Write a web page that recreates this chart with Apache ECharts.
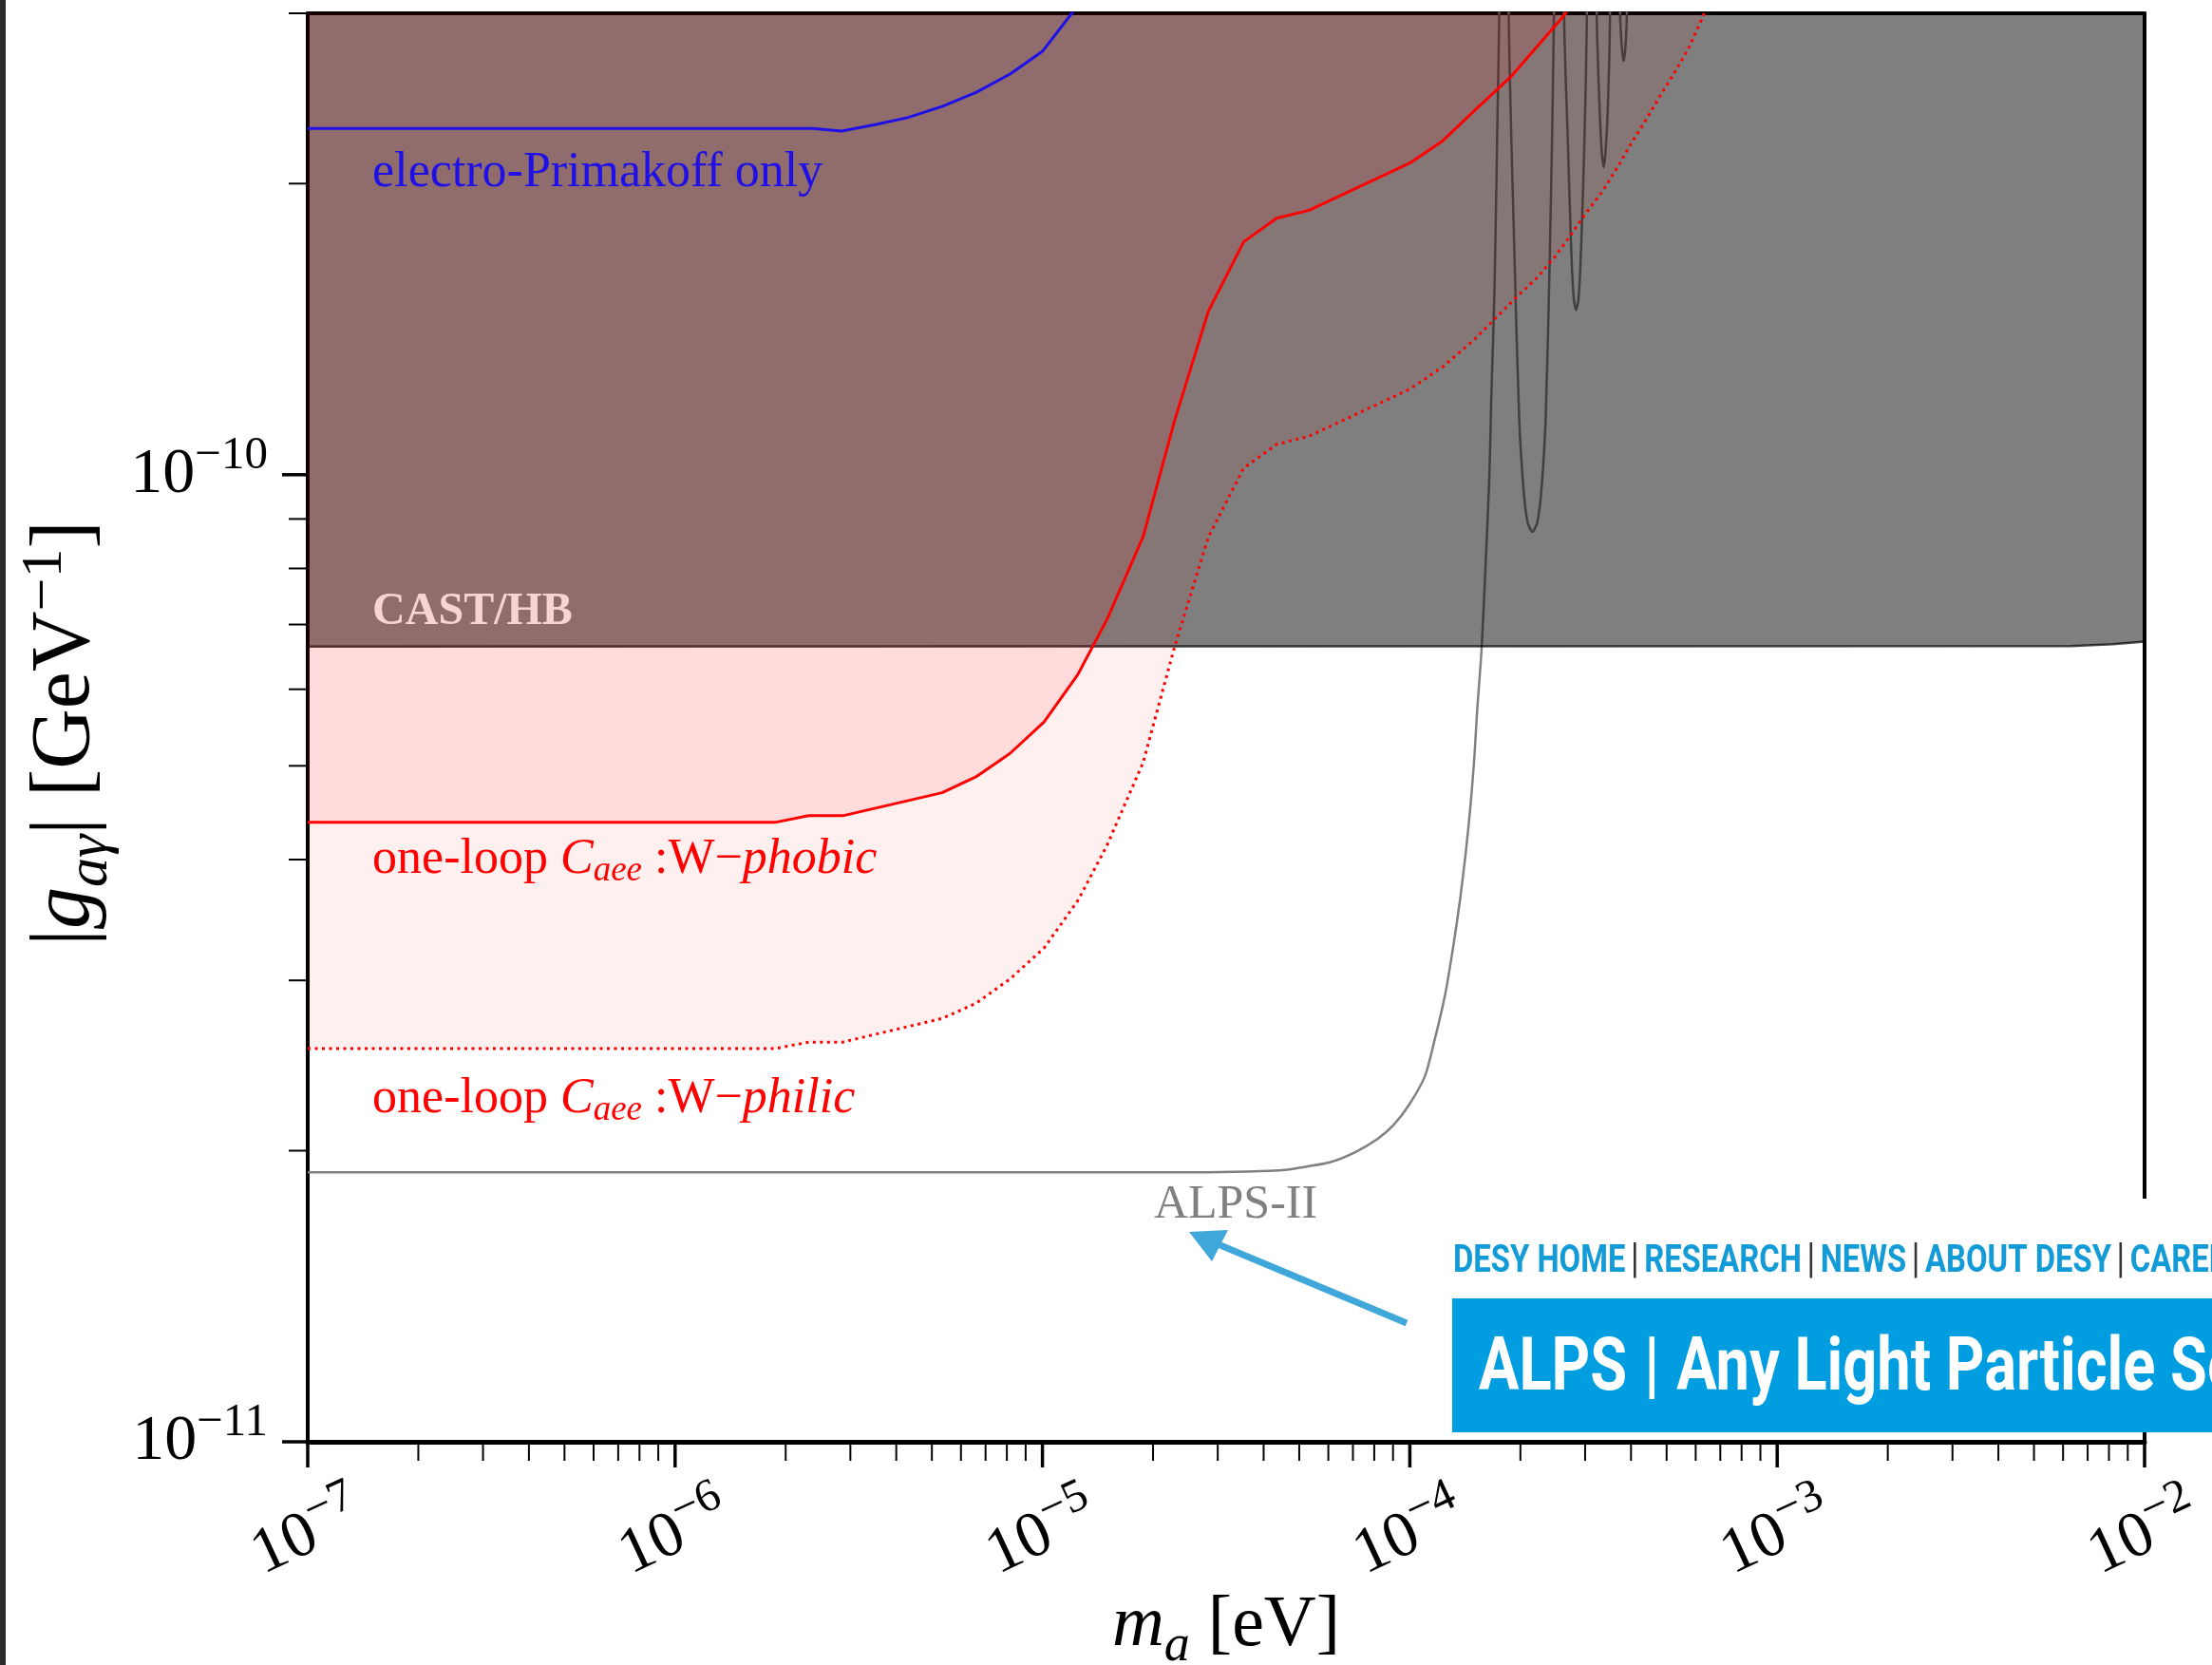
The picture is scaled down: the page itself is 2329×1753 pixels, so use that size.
<!DOCTYPE html>
<html>
<head>
<meta charset="utf-8">
<script src="https://cdn.jsdelivr.net/npm/echarts@6/dist/echarts.min.js"></script>
<style>
  html, body { margin: 0; padding: 0; background: #ffffff; }
  #chart { width: 2329px; height: 1753px; }
</style>
</head>
<body>
<div id="chart"></div>
<script>
// ---- axis ranges -------------------------------------------------------
const xRange = [1e-7, 1e-2];          // m_a [eV]
const yRange = [1e-11, 3e-10];        // |g_a gamma| [GeV^-1]

// ---- ticks and tick labels ---------------------------------------------
const xMajorTicks = [1e-7, 1e-6, 1e-5, 1e-4, 1e-3, 1e-2];
const xTickExponents = ['\u22127', '\u22126', '\u22125', '\u22124', '\u22123', '\u22122'];
const xMinorTicks = [
  2e-7, 3e-7, 4e-7, 5e-7, 6e-7, 7e-7, 8e-7, 9e-7,
  2e-6, 3e-6, 4e-6, 5e-6, 6e-6, 7e-6, 8e-6, 9e-6,
  2e-5, 3e-5, 4e-5, 5e-5, 6e-5, 7e-5, 8e-5, 9e-5,
  2e-4, 3e-4, 4e-4, 5e-4, 6e-4, 7e-4, 8e-4, 9e-4,
  2e-3, 3e-3, 4e-3, 5e-3, 6e-3, 7e-3, 8e-3, 9e-3
];
const yMajorTicks = [1e-11, 1e-10];
const yTickExponents = ['\u221211', '\u221210'];
const yMinorTicks = [2e-11, 3e-11, 4e-11, 5e-11, 6e-11, 7e-11, 8e-11, 9e-11, 2e-10, 3e-10];

// ---- limits / sensitivities: [m_a, g_a gamma] ---------------------------
const castHB = [
  [1e-7, 6.64e-11], [6.3e-3, 6.65e-11], [8.2e-3, 6.68e-11], [1e-2, 6.72e-11]
];

// ALPS-II sensitivity; the curve leaves the frame between its minima
const alpsII = [
  [1e-7, 1.90e-11], [2.67e-5, 1.90e-11], [3.6e-5, 1.903e-11], [4.49e-5, 1.909e-11],
  [5.2e-5, 1.925e-11], [6.05e-5, 1.945e-11], [7.10e-5, 1.993e-11], [8.16e-5, 2.056e-11],
  [9.02e-5, 2.125e-11], [9.96e-5, 2.232e-11], [1.099e-4, 2.388e-11], [1.165e-4, 2.593e-11],
  [1.248e-4, 2.902e-11], [1.312e-4, 3.248e-11], [1.37e-4, 3.635e-11], [1.42e-4, 4.068e-11],
  [1.463e-4, 4.551e-11], [1.498e-4, 5.094e-11], [1.525e-4, 5.702e-11], [1.568e-4, 6.6e-11],
  [1.606e-4, 7.99e-11], [1.647e-4, 1e-10], [1.666e-4, 1.197e-10], [1.70e-4, 1.553e-10],
  [1.734e-4, 2.393e-10], [1.751e-4, 2.985e-10],
  [1.805e-4, 2e-9],
  [1.859e-4, 2.985e-10], [1.926e-4, 1.693e-10], [1.984e-4, 1.147e-10], [2.04e-4, 9.645e-11],
  [2.093e-4, 8.92e-11], [2.157e-4, 8.73e-11], [2.222e-4, 8.92e-11], [2.281e-4, 9.645e-11],
  [2.344e-4, 1.147e-10], [2.405e-4, 1.693e-10], [2.468e-4, 2.985e-10],
  [2.548e-4, 2e-9],
  [2.63e-4, 2.985e-10], [2.694e-4, 2.196e-10], [2.748e-4, 1.722e-10], [2.792e-4, 1.526e-10],
  [2.836e-4, 1.48e-10], [2.881e-4, 1.526e-10], [2.927e-4, 1.722e-10], [2.986e-4, 2.196e-10],
  [3.034e-4, 2.985e-10],
  [3.12e-4, 2e-9],
  [3.227e-4, 2.985e-10], [3.285e-4, 2.393e-10], [3.33e-4, 2.158e-10], [3.37e-4, 2.08e-10],
  [3.41e-4, 2.158e-10], [3.459e-4, 2.393e-10], [3.506e-4, 2.985e-10],
  [3.62e-4, 2e-9],
  [3.738e-4, 2.985e-10], [3.782e-4, 2.749e-10], [3.819e-4, 2.679e-10], [3.857e-4, 2.749e-10],
  [3.896e-4, 2.985e-10],
  [4.0e-4, 2e-9]
];

const wPhilic = [
  [1e-7, 2.55e-11], [1.87e-6, 2.55e-11], [2.31e-6, 2.59e-11], [2.86e-6, 2.59e-11],
  [5.33e-6, 2.74e-11], [6.59e-6, 2.84e-11], [8.16e-6, 3.01e-11], [1.01e-5, 3.24e-11],
  [1.25e-5, 3.63e-11], [1.50e-5, 4.14e-11], [1.88e-5, 5.04e-11], [2.29e-5, 6.64e-11],
  [2.83e-5, 8.62e-11], [3.53e-5, 1.016e-10], [4.34e-5, 1.075e-10], [5.32e-5, 1.096e-10],
  [1.0e-4, 1.226e-10], [1.23e-4, 1.293e-10], [1.50e-4, 1.38e-10], [1.70e-4, 1.448e-10],
  [1.95e-4, 1.526e-10], [2.20e-4, 1.593e-10], [2.48e-4, 1.679e-10], [2.74e-4, 1.768e-10],
  [2.96e-4, 1.846e-10], [3.34e-4, 1.962e-10], [3.69e-4, 2.084e-10], [3.99e-4, 2.195e-10],
  [4.41e-4, 2.333e-10], [4.78e-4, 2.457e-10], [5.27e-4, 2.61e-10], [5.71e-4, 2.749e-10],
  [6.24e-4, 2.96e-10], [6.45e-4, 3.06e-10]
];

const wPhobic = [
  [1e-7, 4.37e-11], [1.87e-6, 4.37e-11], [2.31e-6, 4.44e-11], [2.86e-6, 4.44e-11],
  [5.33e-6, 4.69e-11], [6.59e-6, 4.87e-11], [8.16e-6, 5.15e-11], [1.01e-5, 5.55e-11],
  [1.25e-5, 6.22e-11], [1.50e-5, 7.09e-11], [1.88e-5, 8.63e-11], [2.29e-5, 1.138e-10],
  [2.83e-5, 1.476e-10], [3.53e-5, 1.741e-10], [4.34e-5, 1.842e-10], [5.32e-5, 1.877e-10],
  [1.0e-4, 2.10e-10], [1.23e-4, 2.215e-10], [1.50e-4, 2.38e-10], [1.88e-4, 2.577e-10],
  [2.63e-4, 2.985e-10], [2.75e-4, 3.06e-10]
];

const electroPrimakoff = [
  [1e-7, 2.28e-10], [2.37e-6, 2.28e-10], [2.84e-6, 2.266e-10], [3.50e-6, 2.301e-10],
  [4.29e-6, 2.34e-10], [5.35e-6, 2.404e-10], [6.61e-6, 2.486e-10], [8.18e-6, 2.597e-10],
  [1.0e-5, 2.74e-10], [1.21e-5, 3.01e-10], [1.26e-5, 3.08e-10]
];

// text anchors (left-middle of each annotation) in data coordinates
const annotationAnchors = {
  primakoff: [1.5e-7, 2.05e-10],
  cast: [1.5e-7, 7.2e-11],
  phobic: [1.5e-7, 4.0e-11],
  philic: [1.5e-7, 2.26e-11],
  alps: [2.01e-5, 1.755e-11]
};

// ---- styling -----------------------------------------------------------
const SERIF = '"Liberation Serif", "DejaVu Serif", serif';
const RED = '#ff0000';
const BLUE = '#2010e8';

function isPower(v, list) {
  return list.findIndex(t => Math.abs(Math.log10(t) - Math.log10(v)) < 1e-6);
}

const tickRich = {
  b: { fontFamily: SERIF, fontSize: 68, lineHeight: 86, color: '#000' },
  s: { fontFamily: SERIF, fontSize: 49, height: 46, verticalAlign: 'top', color: '#000' }
};

const labelRich = (color) => ({
  n: { fontFamily: SERIF, fontSize: 52, lineHeight: 62, color: color },
  it: { fontFamily: SERIF, fontSize: 52, lineHeight: 62, fontStyle: 'italic', color: color },
  sub: { fontFamily: SERIF, fontSize: 37, height: 38, verticalAlign: 'bottom', fontStyle: 'italic', color: color }
});

function tickRenderer(horizontal) {
  return function (params, api) {
    const p = api.coord([api.value(0), api.value(1)]);
    const major = api.value(2) === 1;
    const len = major ? 27 : 20;
    const shape = horizontal
      ? { x1: p[0], y1: p[1], x2: p[0], y2: p[1] + len }
      : { x1: p[0], y1: p[1], x2: p[0] - len, y2: p[1] };
    return { type: 'line', shape: shape, style: { stroke: '#000', lineWidth: major ? 3.5 : 2 } };
  };
}

const xTickData = xMajorTicks.map(v => [v, yRange[0], 1]).concat(xMinorTicks.map(v => [v, yRange[0], 0]));
const yTickData = yMajorTicks.map(v => [xRange[0], v, 1]).concat(yMinorTicks.map(v => [xRange[0], v, 0]));

const chart = echarts.init(document.getElementById('chart'), null, { renderer: 'canvas', width: 2329, height: 1753 });

const option = {
  animation: false,
  backgroundColor: '#ffffff',
  grid: { left: 324, right: 71, top: 14, bottom: 235, containLabel: false, outerBoundsMode: 'none' },
  xAxis: [
    {
      type: 'log', logBase: 10, min: xRange[0], max: xRange[1], position: 'bottom',
      axisLine: { show: true, lineStyle: { color: '#000', width: 5 } },
      axisTick: { show: false }, splitLine: { show: false }, minorTick: { show: false },
      axisLabel: {
        rotate: 25, align: 'center', verticalAlign: 'middle', margin: 98,
        fontFamily: SERIF, color: '#000',
        formatter: v => { const i = isPower(v, xMajorTicks); return i < 0 ? '' : '{b|10}{s|' + xTickExponents[i] + '}'; },
        rich: tickRich
      },
      name: '{it|m}{sub|a}{n| [eV]}', nameLocation: 'middle', nameGap: 144, nameMoveOverlap: false,
      nameTextStyle: {
        fontFamily: SERIF, fontSize: 76, color: '#000',
        rich: {
          n: { fontFamily: SERIF, fontSize: 76, lineHeight: 100, color: '#000' },
          it: { fontFamily: SERIF, fontSize: 76, lineHeight: 100, fontStyle: 'italic', color: '#000' },
          sub: { fontFamily: SERIF, fontSize: 54, height: 56, verticalAlign: 'bottom', fontStyle: 'italic', color: '#000' }
        }
      }
    },
    {
      type: 'log', logBase: 10, min: xRange[0], max: xRange[1], position: 'top',
      axisLine: { show: true, lineStyle: { color: '#000', width: 4 } },
      axisTick: { show: false }, axisLabel: { show: false }, splitLine: { show: false }
    }
  ],
  yAxis: [
    {
      type: 'log', logBase: 10, min: yRange[0], max: yRange[1], position: 'left',
      axisLine: { show: true, lineStyle: { color: '#000', width: 4 } },
      axisTick: { show: false }, splitLine: { show: false }, minorTick: { show: false },
      axisLabel: {
        margin: 42, fontFamily: SERIF, color: '#000',
        formatter: v => { const i = isPower(v, yMajorTicks); return i < 0 ? '' : '{b|10}{s|' + yTickExponents[i] + '}'; },
        rich: tickRich
      },
      name: '{n||}{it|g}{sub|a\u03b3}{n|| [GeV}{sup|\u22121}{n|]}',
      nameLocation: 'middle', nameRotate: 90, nameGap: 197, nameMoveOverlap: false,
      nameTextStyle: {
        fontFamily: SERIF, fontSize: 88, color: '#000', padding: [0, 12, 0, 0],
        rich: {
          n: { fontFamily: SERIF, fontSize: 88, lineHeight: 114, color: '#000' },
          it: { fontFamily: SERIF, fontSize: 88, lineHeight: 114, fontStyle: 'italic', color: '#000' },
          sub: { fontFamily: SERIF, fontSize: 62, height: 62, verticalAlign: 'bottom', fontStyle: 'italic', color: '#000' },
          sup: { fontFamily: SERIF, fontSize: 62, height: 70, verticalAlign: 'top', color: '#000' }
        }
      }
    },
    {
      type: 'log', logBase: 10, min: yRange[0], max: yRange[1], position: 'right',
      axisLine: { show: true, lineStyle: { color: '#000', width: 4 } },
      axisTick: { show: false }, axisLabel: { show: false }, splitLine: { show: false }
    }
  ],
  series: [
    {
      name: 'ALPS-II', type: 'line', z: 2, data: alpsII,
      showSymbol: false, symbol: 'none', smooth: 0.25, clip: true, silent: true,
      lineStyle: { color: '#808080', width: 2.5 }
    },
    {
      name: 'CAST/HB', type: 'line', z: 3, data: castHB, showSymbol: false, symbol: 'none', clip: true, silent: true,
      lineStyle: { color: 'rgba(0,0,0,0.7)', width: 2.5 },
      areaStyle: { color: 'rgba(0,0,0,0.5)', opacity: 1, origin: 'end' }
    },
    {
      name: 'W-philic', type: 'line', z: 4, data: wPhilic, showSymbol: false, symbol: 'none', clip: true, silent: true,
      lineStyle: { color: RED, width: 3, type: [3, 4.5] },
      areaStyle: { color: 'rgba(255,0,0,0.06)', opacity: 1, origin: 'end' }
    },
    {
      name: 'W-phobic', type: 'line', z: 5, data: wPhobic, showSymbol: false, symbol: 'none', clip: true, silent: true,
      lineStyle: { color: RED, width: 3 },
      areaStyle: { color: 'rgba(255,0,0,0.085)', opacity: 1, origin: 'end' }
    },
    {
      name: 'electro-Primakoff', type: 'line', z: 6, data: electroPrimakoff, showSymbol: false, symbol: 'none',
      clip: true, silent: true,
      lineStyle: { color: BLUE, width: 3 }
    },
    {
      name: 'x ticks', type: 'custom', z: 7, coordinateSystem: 'cartesian2d', data: xTickData,
      encode: { x: 0, y: 1 }, clip: false, silent: true, renderItem: tickRenderer(true)
    },
    {
      name: 'y ticks', type: 'custom', z: 7, coordinateSystem: 'cartesian2d', data: yTickData,
      encode: { x: 0, y: 1 }, clip: false, silent: true, renderItem: tickRenderer(false)
    },
    {
      name: 'annotations', type: 'scatter', z: 20, zlevel: 0, symbolSize: 0, silent: true, clip: false,
      itemStyle: { opacity: 1 },
      data: [
        { value: annotationAnchors.primakoff,
          label: { show: true, position: 'right', distance: 0, formatter: 'electro-Primakoff only', opacity: 1,
                   fontFamily: SERIF, fontSize: 52, color: BLUE } },
        { value: annotationAnchors.cast,
          label: { show: true, position: 'right', distance: 0, formatter: 'CAST/HB', opacity: 1,
                   fontFamily: SERIF, fontSize: 48, fontWeight: 'bold', color: '#f7d4d4' } },
        { value: annotationAnchors.phobic,
          label: { show: true, position: 'right', distance: 0, opacity: 1,
                   formatter: '{n|one-loop }{it|C}{sub|aee}{n| :W\u2212}{it|phobic}',
                   rich: labelRich(RED) } },
        { value: annotationAnchors.philic,
          label: { show: true, position: 'right', distance: 0, opacity: 1,
                   formatter: '{n|one-loop }{it|C}{sub|aee}{n| :W\u2212}{it|philic}',
                   rich: labelRich(RED) } },
        { value: annotationAnchors.alps,
          label: { show: true, position: 'right', distance: 0, formatter: 'ALPS-II', opacity: 1,
                   fontFamily: SERIF, fontSize: 50, color: '#808080' } }
      ]
    }
  ],
  graphic: [
    // dark page edge on the left
    { type: 'rect', z: 100, shape: { x: 0, y: 0, width: 6, height: 1753 }, style: { fill: '#2b2b2b' } },
    // ALPS web banner in the lower right corner
    { type: 'rect', z: 100, shape: { x: 1500, y: 1262, width: 829, height: 106 }, style: { fill: '#ffffff' } },
    { type: 'rect', z: 101, shape: { x: 1529, y: 1367, width: 800, height: 141 }, style: { fill: '#009ee0' } },
    {
      type: 'text', z: 102, x: 1530, y: 1329, scaleX: 0.8,
      style: {
        text: '{a|DESY HOME}{d||}{a|RESEARCH}{d||}{a|NEWS}{d||}{a|ABOUT DESY}{d||}{a|CAREER}',
        verticalAlign: 'middle', align: 'left',
        rich: {
          a: { fontFamily: 'Roboto', fontWeight: 'bold', fontSize: 41, fill: '#139bd8' },
          d: { fontFamily: 'Roboto', fontWeight: 'normal', fontSize: 44, fill: '#333333', padding: [0, 7, 0, 7] }
        }
      }
    },
    {
      type: 'text', z: 102, x: 1557, y: 1444, scaleX: 0.82,
      style: {
        text: '{t|ALPS}{bar||}{t|Any Light Particle Search}', verticalAlign: 'middle', align: 'left',
        rich: {
          t: { fontFamily: 'Roboto', fontWeight: 'bold', fontSize: 77, fill: '#ffffff' },
          bar: { fontFamily: 'Roboto', fontWeight: 'bold', fontSize: 77, fill: '#ffffff', padding: [0, 22, 0, 22] }
        }
      }
    },
    { type: 'polyline', z: 102, shape: { points: [[1481, 1393], [1280, 1309]] }, style: { stroke: '#3fa7da', lineWidth: 7 } },
    { type: 'polygon', z: 102, shape: { points: [[1252, 1297], [1293, 1295], [1276, 1328]] }, style: { fill: '#3fa7da' } }
  ]
};

chart.setOption(option);
</script>
</body>
</html>
